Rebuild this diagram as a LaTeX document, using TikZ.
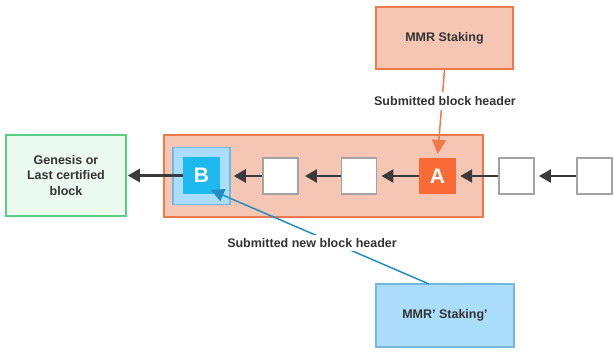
\documentclass[tikz,border=0pt]{standalone}
\usepackage{fontspec}
\setmainfont{Liberation Sans}
\usetikzlibrary{arrows.meta}
\definecolor{txt}{HTML}{333333}
\definecolor{orgfill}{HTML}{F5C6B4}
\definecolor{orgline}{HTML}{F0794A}
\definecolor{orgdark}{HTML}{F96A36}
\definecolor{bluefill}{HTML}{A9DDF9}
\definecolor{blueline}{HTML}{74B8E0}
\definecolor{bluedark}{HTML}{1DB8EE}
\definecolor{bluearrow}{HTML}{1E8FC0}
\definecolor{grnfill}{HTML}{ECFBF0}
\definecolor{grnline}{HTML}{58CF80}
\definecolor{chain}{HTML}{3A3A3A}
\definecolor{sqline}{HTML}{A3A3A3}
\tikzset{
  base/.style={rectangle, inner sep=0pt, line width=1.5pt, text=txt,
    font=\fontsize{12.5}{15.5}\selectfont\bfseries, align=center},
  emptyblock/.style={base, draw=sqline, line width=1.8pt, fill=white, minimum width=35pt, minimum height=36pt},
  keyblock/.style={rectangle, inner sep=0pt, minimum width=37pt, minimum height=37pt,
    text=white, font=\fontsize{21}{21}\selectfont\bfseries},
  link/.style={draw=chain, line width=2.4pt, -{Triangle[length=12pt,width=13pt]}, shorten >=4pt},
  tag/.style={fill=white, text=txt, inner sep=4pt, font=\fontsize{12.5}{15}\selectfont\bfseries}
}
\begin{document}
\begin{tikzpicture}[x=1pt, y=-1pt]
\useasboundingbox (0,0) rectangle (613,354);

% range of blocks covered by the staking commitment
\node[base, draw=orgline, fill=orgfill, minimum width=319pt, minimum height=82pt] (range) at (323.5,176) {};

% last certified block
\node[base, draw=grnline, fill=grnfill, minimum width=120pt, minimum height=81pt] (genesis) at (66,175.5)
  {Genesis or\\Last certified\\block};

% block B, in its highlight frame
\node[base, draw=blueline, fill=bluefill, minimum width=57pt, minimum height=57pt] (bframe) at (201.5,176) {};
\node[keyblock, fill=bluedark] (b) at (201.5,175.5) {B};

% the rest of the chain
\node[emptyblock] (s1) at (280.5,176) {};
\node[emptyblock] (s2) at (359,176) {};
\node[keyblock, fill=orgdark, minimum width=37pt, minimum height=36pt] (a) at (437.5,176) {A};
\node[emptyblock] (s3) at (516.5,176) {};
\node[emptyblock] (s4) at (594.5,176) {};

% chain links, each block pointing to its parent
\draw[link, shorten >=1pt] (b.west) -- (genesis.east);
\draw[link, shorten >=3pt] (s1.west) -- (bframe.east);
\draw[link, shorten >=6pt] (s2.west) -- (s1.east);
\draw[link] (a.west) -- (s2.east);
\draw[link] (s3.west) -- (a.east);
\draw[link] (s4.west) -- (s3.east);

% staking commitments
\node[base, draw=orgline, fill=orgfill, minimum width=137pt, minimum height=62pt] (mmr) at (444.5,38) {MMR Staking};
\node[base, draw=blueline, fill=bluefill, minimum width=138pt, minimum height=63pt] (mmrnew) at (445,315.5) {MMR’ Staking’};

% submitted headers
\draw[draw=orgline, line width=1.5pt, -{Triangle[length=14pt,width=14pt]}, shorten >=4pt]
  (mmr.south) -- (a.north);
\node[tag] (lblA) at (445,101) {Submitted block header};

\coordinate (btip) at (211,190);
\coordinate (bsrc) at (429,284);
\draw[draw=bluearrow, line width=1.5pt, -{Triangle[length=13pt,width=13pt]}] (bsrc) -- (btip);
\node[tag, inner sep=3pt] (lblB) at (312,243) {Submitted new block header};
\end{tikzpicture}
\end{document}
